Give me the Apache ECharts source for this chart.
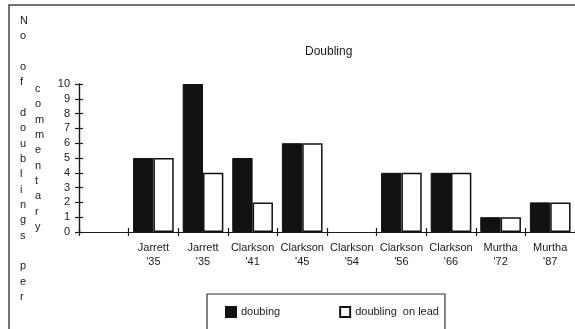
<!DOCTYPE html>
<html>
<head>
<meta charset="utf-8">
<style>
  html, body { margin: 0; padding: 0; background: #fff; }
  #chart { width: 575px; height: 329px; }
</style>
<script src="https://cdn.jsdelivr.net/npm/echarts@6/dist/echarts.min.js"></script>
</head>
<body>
<div id="chart"></div>
<script>
// ---- data ----
var categories = ['', "Jarrett\n'35", "Jarrett\n'35", "Clarkson\n'41", "Clarkson\n'45", "Clarkson\n'54", "Clarkson\n'56", "Clarkson\n'66", "Murtha\n'72", "Murtha\n'87"];
var doubing = [null, 5, 10, 5, 6, 0, 4, 4, 1, 2];
var doublingOnLead = [null, 5, 4, 2, 6, 0, 4, 4, 1, 2];
var yTicks = [0, 1, 2, 3, 4, 5, 6, 7, 8, 9, 10];
var seriesNames = ['doubing', 'doubling  on lead'];
var titleText = 'Doubling';
var yTitleCol1 = 'No of doublings per';
var yTitleCol2 = 'commentary';

var FONT = '"Liberation Sans", Arial, Helvetica, sans-serif';
var INK = '#1a1a1a';

// zero-height bars draw no outline
function barData(arr) {
  return arr.map(function (v) {
    return v === 0 ? { value: v, itemStyle: { borderWidth: 0 } } : v;
  });
}

var chart = echarts.init(document.getElementById('chart'), null, { renderer: 'canvas' });

function xAxisDef(inside, showLabel) {
  return {
    type: 'category',
    data: categories,
    position: 'bottom',
    boundaryGap: true,
    axisLine: { show: true, lineStyle: { color: INK, width: 1.2 } },
    axisTick: { show: true, inside: inside, length: 4, interval: 0, lineStyle: { color: INK, width: 1.2 } },
    axisLabel: {
      show: showLabel, interval: 0, margin: 9,
      fontFamily: FONT, fontSize: 11, color: INK, lineHeight: 14
    },
    splitLine: { show: false }
  };
}
function yAxisDef(inside, showLabel) {
  return {
    type: 'value',
    position: 'left',
    min: yTicks[0],
    max: yTicks[yTicks.length - 1],
    interval: 1,
    axisLine: { show: true, lineStyle: { color: INK, width: 1.2 } },
    axisTick: { show: true, inside: inside, length: 4, lineStyle: { color: INK, width: 1.2 } },
    axisLabel: { show: showLabel, margin: 9, fontFamily: FONT, fontSize: 11, color: INK },
    splitLine: { show: false }
  };
}

var option = {
  backgroundColor: '#fff',
  animation: false,
  title: {
    text: titleText,
    left: 300, top: 41,
    textStyle: { fontFamily: FONT, fontSize: 12, fontWeight: 'normal', color: INK }
  },
  grid: { left: 79, top: 84, width: 500, height: 148, containLabel: false },
  xAxis: [xAxisDef(false, true), xAxisDef(true, false)],
  yAxis: [yAxisDef(false, true), yAxisDef(true, false)],
  legend: {
    data: seriesNames,
    left: 207, top: 294,
    width: 237,
    orient: 'horizontal',
    padding: [12, 6, 12, 18],
    itemGap: 59,
    itemWidth: 10, itemHeight: 10,
    borderColor: '#333', borderWidth: 1.2, borderRadius: 0,
    backgroundColor: '#fff',
    icon: 'rect',
    textStyle: { fontFamily: FONT, fontSize: 11, color: INK }
  },
  series: [
    {
      name: seriesNames[0], type: 'bar', data: barData(doubing),
      xAxisIndex: 0, yAxisIndex: 0,
      barGap: '0%', barCategoryGap: '18%',
      itemStyle: { color: '#111', borderColor: '#111', borderWidth: 1 }
    },
    {
      name: seriesNames[1], type: 'bar', data: barData(doublingOnLead),
      xAxisIndex: 0, yAxisIndex: 0,
      barGap: '0%', barCategoryGap: '18%',
      itemStyle: { color: '#fff', borderColor: '#111', borderWidth: 1.5 }
    }
  ],
  graphic: [
    {
      type: 'rect', z: -10, silent: true,
      shape: { x: 9, y: 5, width: 620, height: 400 },
      style: { fill: 'none', stroke: '#444', lineWidth: 1.5 }
    },
    {
      type: 'text', left: 20, top: 13,
      style: {
        text: yTitleCol1.split('').join('\n'),
        font: '11px ' + FONT, fill: INK, lineHeight: 15.35, align: 'center'
      }
    },
    {
      type: 'text', left: 35, top: 81.5,
      style: {
        text: yTitleCol2.split('').join('\n'),
        font: '11px ' + FONT, fill: INK, lineHeight: 15.3, align: 'center'
      }
    }
  ]
};
chart.setOption(option);
</script>
</body>
</html>
